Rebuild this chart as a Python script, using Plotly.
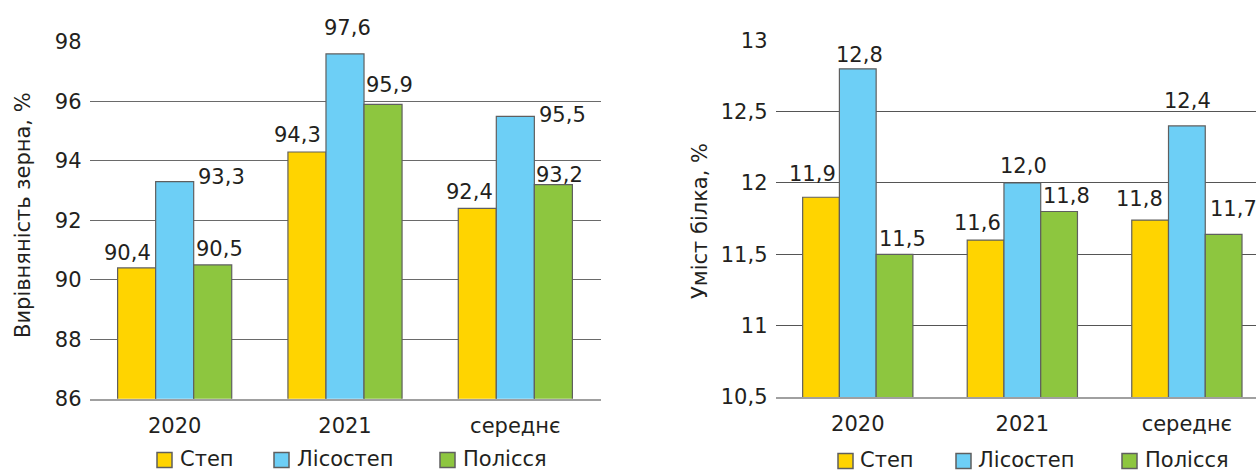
import plotly.graph_objects as go

categories = ["2020", "2021", "середнє"]
series_names = ["Степ", "Лісостеп", "Полісся"]
colors = ["#FFD400", "#6DCFF6", "#8DC63F"]

# Left chart: Вирівняність зерна, %
uniformity_step = [90.4, 94.3, 92.4]
uniformity_lisostep = [93.3, 97.6, 95.5]
uniformity_polissia = [90.5, 95.9, 93.2]

# Right chart: Уміст білка, % (bar heights as drawn, labels as printed)
protein_step = [11.9, 11.6, 11.74]
protein_lisostep = [12.8, 12.0, 12.4]
protein_polissia = [11.5, 11.8, 11.64]
protein_step_labels = ["11,9", "11,6", "11,8"]
protein_lisostep_labels = ["12,8", "12,0", "12,4"]
protein_polissia_labels = ["11,5", "11,8", "11,7"]

left_ticks = [86, 88, 90, 92, 94, 96, 98]
right_ticks = [10.5, 11, 11.5, 12, 12.5, 13]
right_ticktext = ["10,5", "11", "11,5", "12", "12,5", "13"]

left_title = "Вирівняність зерна, %"
right_title = "Уміст білка, %"

# label placement tweaks (pixels): [series][category] -> (dx, gap above bar top)
left_label_dx = [[-9, -9, -8], [47, 2, 47], [7, 6, 6]]
left_label_gap = [[7, 9, 8], [-3, 18, -7], [8, 11, 2]]
right_label_dx = [[-9, -8, -11], [2, 1, 1], [8, 7, 10]]
right_label_gap = [[15, 9, 13], [6, 9, 17], [7, 8, 17]]

FONT = "DejaVu Sans, sans-serif"
TXT = "#231f20"
FS = 21
W, H = 1256, 473
BARGAP = 0.33
BORDER = dict(color="#5f5f5f", width=1.2)


def fmt(v):
    return f"{v:.1f}".replace(".", ",")


fig = go.Figure()
annotations = []
shapes = []
bw = (1 - BARGAP) / 3  # width of one bar in category units

left_series = [uniformity_step, uniformity_lisostep, uniformity_polissia]
for i, (name, vals, col) in enumerate(zip(series_names, left_series, colors)):
    fig.add_trace(go.Bar(x=categories, y=vals, name=name, marker=dict(color=col, line=BORDER),
                         xaxis="x", yaxis="y", showlegend=False, cliponaxis=False))
    for j, v in enumerate(vals):
        annotations.append(dict(x=j + (i - 1) * bw, y=v, xref="x", yref="y", text=fmt(v), showarrow=False,
                                xanchor="center", yanchor="middle",
                                xshift=left_label_dx[i][j], yshift=left_label_gap[i][j] + 8,
                                font=dict(size=FS, color=TXT, family=FONT)))

right_series = [protein_step, protein_lisostep, protein_polissia]
right_labels = [protein_step_labels, protein_lisostep_labels, protein_polissia_labels]
for i, (name, vals, labs, col) in enumerate(zip(series_names, right_series, right_labels, colors)):
    fig.add_trace(go.Bar(x=categories, y=vals, name=name, marker=dict(color=col, line=BORDER),
                         xaxis="x2", yaxis="y2", showlegend=False, cliponaxis=False))
    for j, (v, lab) in enumerate(zip(vals, labs)):
        annotations.append(dict(x=j + (i - 1) * bw, y=v, xref="x2", yref="y2", text=lab, showarrow=False,
                                xanchor="center", yanchor="middle",
                                xshift=right_label_dx[i][j], yshift=right_label_gap[i][j] + 8,
                                font=dict(size=FS, color=TXT, family=FONT)))

# Axis titles (rotated)
for text, xc, yc in [(left_title, 23, 215), (right_title, 700, 221)]:
    annotations.append(dict(x=xc / W, y=1 - yc / H, xref="paper", yref="paper", text=text, textangle=-90,
                            showarrow=False, xanchor="center", yanchor="middle",
                            font=dict(size=FS, color=TXT, family=FONT)))


# Legends (one under each chart)
def add_legend(square_lefts, text_lefts, yc):
    for name, col, sx, tx in zip(series_names, colors, square_lefts, text_lefts):
        shapes.append(dict(type="rect", xref="paper", yref="paper",
                           x0=sx / W, x1=(sx + 15) / W, y0=1 - (yc + 7.5) / H, y1=1 - (yc - 7.5) / H,
                           fillcolor=col, line=dict(color="#5f5f5f", width=1.5)))
        annotations.append(dict(x=tx / W, y=1 - (yc - 1) / H, xref="paper", yref="paper", text=name,
                                showarrow=False, xanchor="left", yanchor="middle",
                                font=dict(size=FS, color=TXT, family=FONT)))


add_legend([157, 274, 440], [178, 295, 461], 460)
add_legend([838, 956, 1122], [858, 976, 1143], 461)

axis_common = dict(showgrid=False, showline=True, linecolor="#a0a0a0", linewidth=2, ticks="",
                   automargin=False, tickfont=dict(size=FS, color=TXT, family=FONT))
yaxis_common = dict(showgrid=True, gridwidth=1, zeroline=False, showline=False, ticks="",
                    automargin=False, tickfont=dict(size=FS, color=TXT, family=FONT),
                    ticklabelstandoff=7)

fig.update_layout(
    width=W, height=H,
    margin=dict(l=0, r=0, t=0, b=0),
    paper_bgcolor="white", plot_bgcolor="white",
    font=dict(family=FONT, size=FS, color=TXT),
    barmode="group", bargap=BARGAP, bargroupgap=0,
    showlegend=False,
    xaxis=dict(domain=[89.5 / W, 600.5 / W], anchor="y", type="category", range=[-0.5, 2.5],
               ticklabelstandoff=7, **axis_common),
    yaxis=dict(domain=[1 - 398.7 / H, 1 - 42 / H], anchor="x", range=[86, 98],
               tickvals=left_ticks, gridcolor="#6a6a6a", **yaxis_common),
    xaxis2=dict(domain=[775.5 / W, 1.0], anchor="y2", type="category", range=[-0.5, 2.42],
                ticklabelstandoff=7, **axis_common),
    yaxis2=dict(domain=[1 - 397 / H, 1 - 40.3 / H], anchor="x2", range=[10.5, 13],
                tickvals=right_ticks, ticktext=right_ticktext, gridcolor="#555555", **yaxis_common),
    annotations=annotations,
    shapes=shapes,
)

fig.write_html("out.html", config={"displayModeBar": False},
               post_script="document.body.style.margin='0';")
